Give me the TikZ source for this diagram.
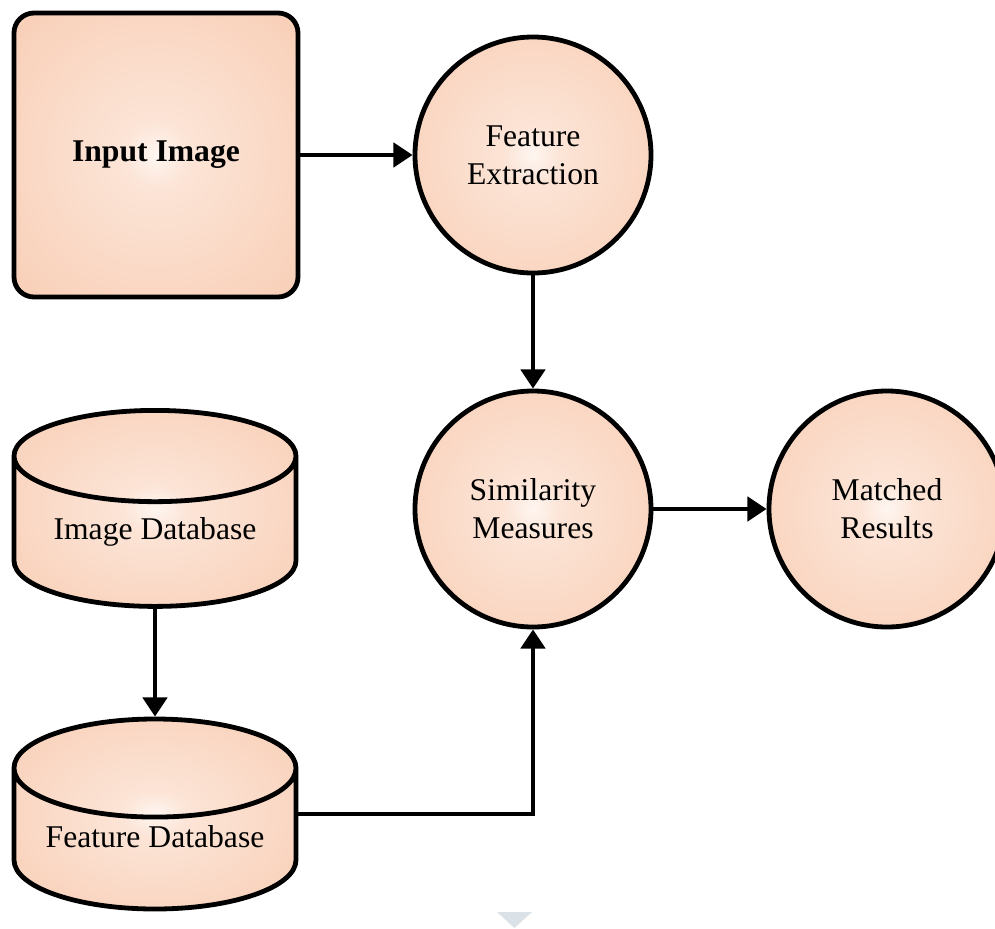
\documentclass[tikz,border=0pt]{standalone}
\usepackage{fontspec}
\setmainfont{Liberation Serif}
\usetikzlibrary{shapes,arrows.meta,positioning,calc}

\definecolor{peachin}{RGB}{254,246,241}
\definecolor{peachmid}{RGB}{252,228,214}
\definecolor{peachout}{RGB}{248,205,180}
\definecolor{markgray}{RGB}{218,225,231}

\pgfdeclareradialshading{peachglow}{\pgfpoint{0bp}{0bp}}{%
  color(0bp)=(peachin); color(6bp)=(peachmid); color(38bp)=(peachout); color(75bp)=(peachout)}

\begin{document}
\begin{tikzpicture}[
    box/.style={draw, line width=0.12cm, shade, shading=peachglow, rounded corners=0.5cm,
        minimum width=7.1cm, minimum height=7.1cm, font=\bfseries\fontsize{22.5}{27}\selectfont},
    proc/.style={circle, draw, line width=0.12cm, shade, shading=peachglow, minimum size=5.9cm,
        align=center, inner sep=0pt, font=\fontsize{22.5}{27}\selectfont},
    store/.style={cylinder, shape border rotate=90, aspect=0.43, draw, line width=0.12cm,
        shade, shading=peachglow, minimum width=7.05cm, text depth=0.48cm,
        anchor=shape center, font=\fontsize{22.5}{27}\selectfont},
    arrow/.style={-{Triangle[length=0.48cm, width=0.6cm]}, line width=0.12cm}
]
    \useasboundingbox (0,0) rectangle (24.875,-23.2);

    % Query side
    \node[box] (inp) at (3.9,-3.875) {Input Image};
    \node[proc] (feat) at (13.325,-3.875) {Feature\\Extraction};

    % Matching
    \node[proc] (sim) at (13.325,-12.725) {Similarity\\Measures};
    \node[proc] (match) at (22.175,-12.725) {Matched\\Results};

    % Databases
    \node[store, minimum height=4.9cm] (imgdb) at (3.875,-12.71) {Image Database};
    \node[store, minimum height=4.75cm] (featdb) at (3.875,-20.35) {Feature Database};

    % Connections
    \draw[arrow] (inp) -- (feat);
    \draw[arrow] (feat) -- (sim);
    \draw[arrow] (sim) -- (match);
    \draw[arrow] (imgdb) -- (featdb);
    \draw[arrow] (featdb.shape center -| featdb.east) -| (sim);

    % small marker at the bottom
    \fill[markgray] (12.425,-22.8) -- (13.3,-22.8) -- (12.86,-23.2) -- cycle;
\end{tikzpicture}
\end{document}
